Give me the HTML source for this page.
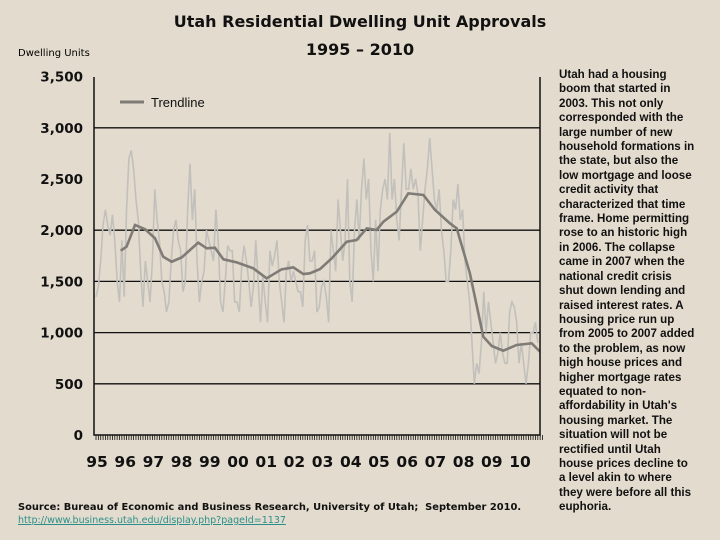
<!DOCTYPE html>
<html><head><meta charset="utf-8"><style>
body{margin:0;width:720px;height:540px;background:#e3dbcd;overflow:hidden;position:relative;font-family:"Liberation Sans",sans-serif}
.abs{position:absolute}
#title{left:0;width:720px;top:8px;text-align:center;font:bold 16px "DejaVu Sans",sans-serif;line-height:28px;color:#111}
#side{left:559px;top:68px;width:160px;font:bold 11.6px "Liberation Sans",sans-serif;line-height:14.4px;color:#111}
#src{left:18px;top:502px;font:bold 9.9px "DejaVu Sans",sans-serif;color:#111;white-space:nowrap}
#url{left:18px;top:515px;font:9.5px "DejaVu Sans",sans-serif;color:#2a8f8a;text-decoration:underline}
</style></head><body>
<div id="title" class="abs">Utah Residential Dwelling Unit Approvals<br>1995 – 2010</div>
<div class="abs" style="left:18px;top:48px;font:10px 'DejaVu Sans',sans-serif">Dwelling Units</div>
<svg class="abs" style="left:0;top:0" width="720" height="540" id="chart"></svg>
<div id="side" class="abs">Utah had a housing<br>boom that started in<br>2003. This not only<br>corresponded with the<br>large number of new<br>household formations in<br>the state, but also the<br>low mortgage and loose<br>credit activity that<br>characterized that time<br>frame. Home permitting<br>rose to an historic high<br>in 2006. The collapse<br>came in 2007 when the<br>national credit crisis<br>shut down lending and<br>raised interest rates. A<br>housing price run up<br>from 2005 to 2007 added<br>to the problem, as now<br>high house prices and<br>higher mortgage rates<br>equated to non-<br>affordability in Utah's<br>housing market. The<br>situation will not be<br>rectified until Utah<br>house prices decline to<br>a level akin to where<br>they were before all this<br>euphoria.</div>
<div id="src" class="abs">Source: Bureau of Economic and Business Research, University of Utah;&nbsp; September 2010.</div>
<div id="url" class="abs">http://www.business.utah.edu/display.php?pageId=1137</div>
<script>
const yTicks=[0,500,1000,1500,2000,2500,3000,3500];
const yTickLabels=["0","500","1,000","1,500","2,000","2,500","3,000","3,500"];
const gridValues=[500,1000,1500,2000,3000];
const xLabels=["95","96","97","98","99","00","01","02","03","04","05","06","07","08","09","10"];
const monthly=[
1350,1450,1700,2050,2200,2050,1950,2150,1900,1500,1300,1900,
1350,2200,2700,2780,2600,2300,2100,1600,1250,1700,1500,1300,
1700,2400,2100,1900,1500,1400,1200,1300,1700,2000,2100,1900,
1800,1400,1500,2200,2650,2100,2400,1700,1300,1500,1600,2000,
1900,1800,1700,2200,1900,1300,1200,1500,1850,1800,1800,1300,
1300,1200,1650,1850,1700,1500,1250,1450,1900,1500,1100,1550,
1300,1100,1800,1650,1750,1900,1500,1300,1100,1600,1700,1500,
1600,1500,1400,1400,1250,1900,2050,1700,1700,1800,1200,1250,
1450,1500,1350,1100,2000,1800,1600,2300,2000,1700,1900,2500,
1500,1300,2000,2300,1900,2400,2700,2300,2500,1800,1500,2100,
1600,2200,2400,2500,2300,2950,2300,2500,2100,1900,2400,2850,
2400,2400,2600,2400,2500,2350,1800,2100,2400,2600,2900,2600,
2300,2200,2400,2000,1800,1500,1500,1800,2300,2200,2450,2100,
2200,1700,1500,1300,900,500,700,600,900,1400,1000,1300,
1100,900,700,800,1000,800,700,700,1200,1300,1250,1100,
700,900,700,500,700,1000,1000,1100,900];
const trendMonths=[10.5,13,16.6,20.9,25.1,28.6,32.2,36.5,43.5,47.1,50.6,54.2,59.9,66.9,72.6,79,84,88.2,91,95.3,100.3,106.7,110.9,115.2,119.4,122.3,128,132.9,139.3,144.3,150.6,153.5,159.1,164.8,168.4,173.3,179,185.4,188.9];
const trendValues=[1800,1839,2051,2009,1921,1741,1692,1735,1878,1823,1829,1716,1686,1628,1530,1618,1637,1572,1579,1620,1725,1888,1904,2018,2002,2083,2181,2360,2344,2197,2067,2018,1579,960,869,823,879,895,814];
const svg=document.getElementById('chart');const NS='http://www.w3.org/2000/svg';
const X0=96,PXM=2.35,Y0=435,PY=51.2/500;
const xs=m=>X0+m*PXM, ys=v=>Y0-v*PY;
function el(t,a){const e=document.createElementNS(NS,t);for(const k in a)e.setAttribute(k,a[k]);svg.appendChild(e);return e;}
gridValues.forEach(v=>{const g=el('line',{x1:94,x2:540,y1:ys(v),y2:ys(v),stroke:'#111','stroke-width':1.3});

});
yTicks.forEach((v,i)=>{const t=el('text',{x:83,y:ys(v)+5,'text-anchor':'end','font-family':'DejaVu Sans','font-weight':'bold','font-size':13.5,fill:'#111'});t.textContent=yTickLabels[i];

});
xLabels.forEach((s,i)=>{const t=el('text',{x:xs(i*12)+1,y:467,'text-anchor':'middle','font-family':'DejaVu Sans','font-weight':'bold','font-size':15.5,fill:'#111'});t.textContent=s;

});
for(let m=0;m<=190;m++){const k=el('line',{x1:xs(m),x2:xs(m),y1:435,y2:440,stroke:'#111','stroke-width':0.8});

}
const raw=el('polyline',{points:monthly.map((v,i)=>xs(i)+','+ys(v)).join(' '),fill:'none',stroke:'#c2c0bc','stroke-width':1.6});


const tr=el('polyline',{points:trendValues.map((v,i)=>xs(trendMonths[i])+','+ys(v)).join(' '),fill:'none',stroke:'#7f7b76','stroke-width':2.6});


const ax=el('polyline',{points:'94,77 94,435 540,435 540,77',fill:'none',stroke:'#111','stroke-width':1.5});


const lg=el('line',{x1:120,x2:144,y1:102,y2:102,stroke:'#7f7b76','stroke-width':3});


const lt=el('text',{x:151,y:107,'font-family':'Liberation Sans','font-size':13,fill:'#111'});lt.textContent='Trendline';


</script>
</body></html>
